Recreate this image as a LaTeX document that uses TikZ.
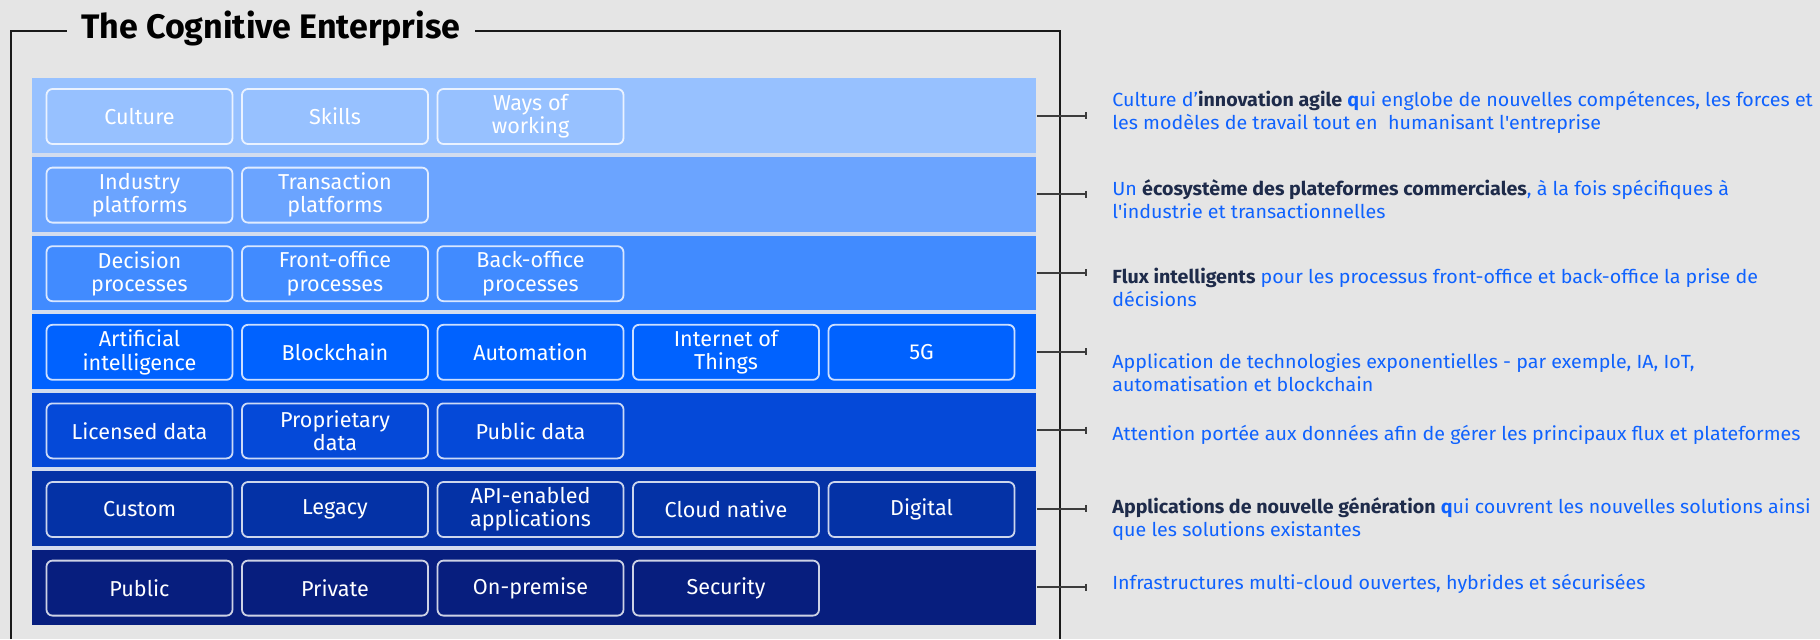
\documentclass[tikz,border=0pt]{standalone}
\usepackage{fontspec}
\setmainfont{Fira Sans}
\newfontfamily\descfont[FakeStretch=1.035]{Fira Sans}
\usetikzlibrary{arrows.meta}
\definecolor{bgc}{HTML}{E5E5E5}
\definecolor{sepc}{HTML}{D3DCEE}
\definecolor{bA}{HTML}{97C1FF}
\definecolor{bB}{HTML}{6BA4FF}
\definecolor{bC}{HTML}{418BFF}
\definecolor{bD}{HTML}{0062FF}
\definecolor{bE}{HTML}{0549D8}
\definecolor{bF}{HTML}{0432A6}
\definecolor{bG}{HTML}{071E7E}
\definecolor{txtblue}{HTML}{0F62FE}
\definecolor{navy}{HTML}{1E2B4A}
\definecolor{framec}{HTML}{1A1A1A}
\tikzset{
  bandbox/.style={draw=none, anchor=north west, minimum width=502pt, minimum height=37.3pt, inner sep=0pt},
  itembox/.style={draw=white, draw opacity=0.8, line width=0.9pt, rounded corners=3pt,
    minimum width=93pt, minimum height=27.5pt, inner sep=0pt, text=white, align=center,
    font=\fontsize{10.8}{11.65}\selectfont},
  conn/.style={draw=framec!85, line width=1pt, -{Bar[width=3.5pt,line width=1pt]}},
  desc/.style={anchor=base west, align=left, inner sep=0pt, text=txtblue,
    font=\descfont\fontsize{9.5}{11.65}\selectfont},
  framel/.style={draw=framec, line width=0.9pt}
}
\newcommand{\hl}[1]{\textcolor{navy}{\bfseries #1}}
\newcommand{\bq}{\textbf{q}}
\begin{document}
\begin{tikzpicture}[x=0.5pt,y=-0.5pt]
\fill[bgc] (0,0) rectangle (1820,639);
\useasboundingbox (0,0) rectangle (1820,639);

% title and frame
\node[anchor=base west, inner sep=0pt, font=\bfseries\fontsize{17}{20}\selectfont, text=black] (title) at (81,38.3) {The Cognitive Enterprise};
\draw[framel] (11,639) -- (11,31) -- (67,31);
\draw[framel] (475,31) -- (1060,31) -- (1060,639);

% band backdrop
\fill[sepc] (32,78) rectangle (1036,624.2);

% bands
\node[bandbox, fill=bA] (band1) at (32,78) {};
\node[bandbox, fill=bB] (band2) at (32,156.6) {};
\node[bandbox, fill=bC] (band3) at (32,235.2) {};
\node[bandbox, fill=bD] (band4) at (32,313.8) {};
\node[bandbox, fill=bE] (band5) at (32,392.4) {};
\node[bandbox, fill=bF] (band6) at (32,471) {};
\node[bandbox, fill=bG] (band7) at (32,549.6) {};

% row 1
\node[itembox] (r1a) at (139.5,116.5) {Culture};
\node[itembox] (r1b) at (335,116.5) {Skills};
\node[itembox] (r1c) at (530.5,116.5) {Ways of\\working};
% row 2
\node[itembox] (r2a) at (139.5,195.1) {Industry\\platforms};
\node[itembox] (r2b) at (335,195.1) {Transaction\\platforms};
% row 3
\node[itembox] (r3a) at (139.5,273.7) {Decision\\processes};
\node[itembox] (r3b) at (335,273.7) {Front-office\\processes};
\node[itembox] (r3c) at (530.5,273.7) {Back-office\\processes};
% row 4
\node[itembox] (r4a) at (139.5,352.3) {Artificial\\intelligence};
\node[itembox] (r4b) at (335,352.3) {Blockchain};
\node[itembox] (r4c) at (530.5,352.3) {Automation};
\node[itembox] (r4d) at (726,352.3) {Internet of\\Things};
\node[itembox] (r4e) at (921.5,352.3) {5G};
% row 5
\node[itembox] (r5a) at (139.5,430.9) {Licensed data};
\node[itembox] (r5b) at (335,430.9) {Proprietary\\data};
\node[itembox] (r5c) at (530.5,430.9) {Public data};
% row 6
\node[itembox] (r6a) at (139.5,509.5) {Custom};
\node[itembox] (r6b) at (335,509.5) {Legacy};
\node[itembox] (r6c) at (530.5,509.5) {API-enabled\\applications};
\node[itembox] (r6d) at (726,509.5) {Cloud native};
\node[itembox] (r6e) at (921.5,509.5) {Digital};
% row 7
\node[itembox] (r7a) at (139.5,588.1) {Public};
\node[itembox] (r7b) at (335,588.1) {Private};
\node[itembox] (r7c) at (530.5,588.1) {On-premise};
\node[itembox] (r7d) at (726,588.1) {Security};

% connectors
\coordinate (tipx) at (1087,0);
\foreach \i in {1,...,7}{
  \draw[conn] (band\i.east) -- (band\i.east -| tipx);
}

% descriptions (base = last line)
\node[desc] (d1) at (1112,129.3) {Culture d’\hl{innovation agile} \bq ui englobe de nouvelles compétences, les forces et\\les modèles de travail tout en~ humanisant l\textquotesingle entreprise};
\node[desc] (d2) at (1112,218.3) {Un \hl{écosystème des plateformes commerciales}, à la fois spécifiques à\\l\textquotesingle industrie et transactionnelles};
\node[desc] (d3) at (1112,306.3) {\hl{Flux intelligents} pour les processus front-office et back-office la prise de\\décisions};
\node[desc] (d4) at (1112,391.3) {Application de technologies exponentielles - par exemple, IA, IoT,\\automatisation et blockchain};
\node[desc] (d5) at (1112,440) {Attention portée aux données afin de gérer les principaux flux et plateformes};
\node[desc] (d6) at (1112,536.3) {\hl{Applications de nouvelle génération} \bq ui couvrent les nouvelles solutions ainsi\\que les solutions existantes};
\node[desc] (d7) at (1112,589) {Infrastructures multi-cloud ouvertes, hybrides et sécurisées};
\end{tikzpicture}
\end{document}
